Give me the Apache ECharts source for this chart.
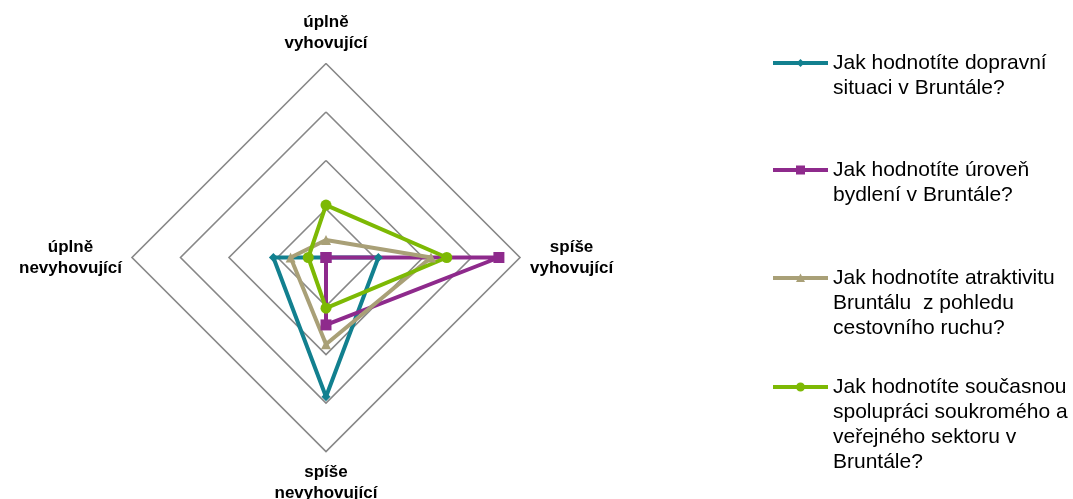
<!DOCTYPE html>
<html><head><meta charset="utf-8">
<script src="https://cdn.jsdelivr.net/npm/echarts@6/dist/echarts.min.js"></script>
<style>html,body{margin:0;padding:0;background:#fff}#c{width:1073px;height:499px}</style>
</head><body><div id="c"></div>
<script>
// Indicators in ECharts order (top, then counter-clockwise: left, bottom, right)
const indicatorNames = ['úplně\nvyhovující', 'úplně\nnevyhovující', 'spíše\nnevyhovující', 'spíše\nvyhovující'];
const axisMax = 80;
const seriesNames = [
  'Jak hodnotíte dopravní\nsituaci v Bruntále?',
  'Jak hodnotíte úroveň\nbydlení v Bruntále?',
  'Jak hodnotíte atraktivitu\nBruntálu  z pohledu\ncestovního ruchu?',
  'Jak hodnotíte současnou\nspolupráci soukromého a\nveřejného sektoru v\nBruntále?'
];
// values per indicator (same order as indicatorNames)
const dopravni    = [0, 21.7, 57.4, 21.6];
const bydleni     = [0, 0, 27.8, 71.3];
const atraktivita = [7.2, 14.6, 35.8, 43.3];
const spoluprace  = [21.6, 7.3, 20.9, 49.8];

const values = [dopravni, bydleni, atraktivita, spoluprace];
const colors = ['#12808F', '#8E2A8C', '#A9A077', '#7DB904'];
const symbols = ['diamond', 'rect', 'triangle', 'circle'];
const symbolSizes = [9, 11, 10, 11];
const bounds = 'M0,0 L0.05,0 L0,0.05 Z M0,12 L0.05,12 L0,11.95 Z ';
const lineRect = 'M0,4 H55 V8 H0 Z ';
const icons = [
  'path://' + bounds + lineRect + 'M27.5,2 L31.5,6 L27.5,10 L23.5,6 Z',
  'path://' + bounds + lineRect + 'M23,1.5 H32 V10.5 H23 Z',
  'path://' + bounds + lineRect + 'M27.5,1.5 L32,10 H23 Z',
  'path://' + bounds + lineRect + 'M23,6 A4.5,4.5 0 1 1 32,6 A4.5,4.5 0 1 1 23,6 Z'
];
const legendIconY = [63, 170, 278, 387];

const chart = echarts.init(document.getElementById('c'), null, {renderer: 'canvas'});
chart.setOption({
  animation: false,
  backgroundColor: '#fff',
  radar: {
    center: [326, 257.5],
    radius: 194,
    startAngle: 90,
    splitNumber: 4,
    shape: 'polygon',
    indicator: indicatorNames.map(n => ({name: n, max: axisMax, min: 0})),
    axisLine: {show: false},
    axisTick: {show: false},
    axisLabel: {show: false},
    splitArea: {show: false},
    splitLine: {lineStyle: {color: '#878787', width: 1.6}},
    nameGap: 10,
    axisName: {
      formatter: name => name.split('\n').map(s => '{c|' + s + '}').join('\n'),
      rich: {
        c: {align: 'center', fontFamily: 'Liberation Sans, Arial, sans-serif', fontWeight: 'bold',
            fontSize: 17, lineHeight: 21, color: '#000'}
      }
    }
  },
  legend: seriesNames.map((n, i) => {
    const lines = n.split('\n').length;
    return {
      data: [{name: n, icon: icons[i]}],
      orient: 'vertical',
      left: 773,
      top: legendIconY[i] - (2 * lines - 1) * 12.5,
      padding: 0,
      itemWidth: 55,
      itemHeight: 12,
      selectedMode: false,
      itemStyle: {borderWidth: 0},
      formatter: name => '\n'.repeat(name.split('\n').length - 1) + name,
      textStyle: {
        fontFamily: 'Liberation Sans, Arial, sans-serif',
        fontSize: 21, lineHeight: 25, color: '#000'
      }
    };
  }),
  series: [{
    type: 'radar',
    data: seriesNames.map((n, i) => ({
      name: n,
      value: values[i],
      symbol: symbols[i],
      symbolSize: symbolSizes[i],
      lineStyle: {color: colors[i], width: 4},
      itemStyle: {color: colors[i], borderWidth: 0}
    }))
  }]
});
</script></body></html>
